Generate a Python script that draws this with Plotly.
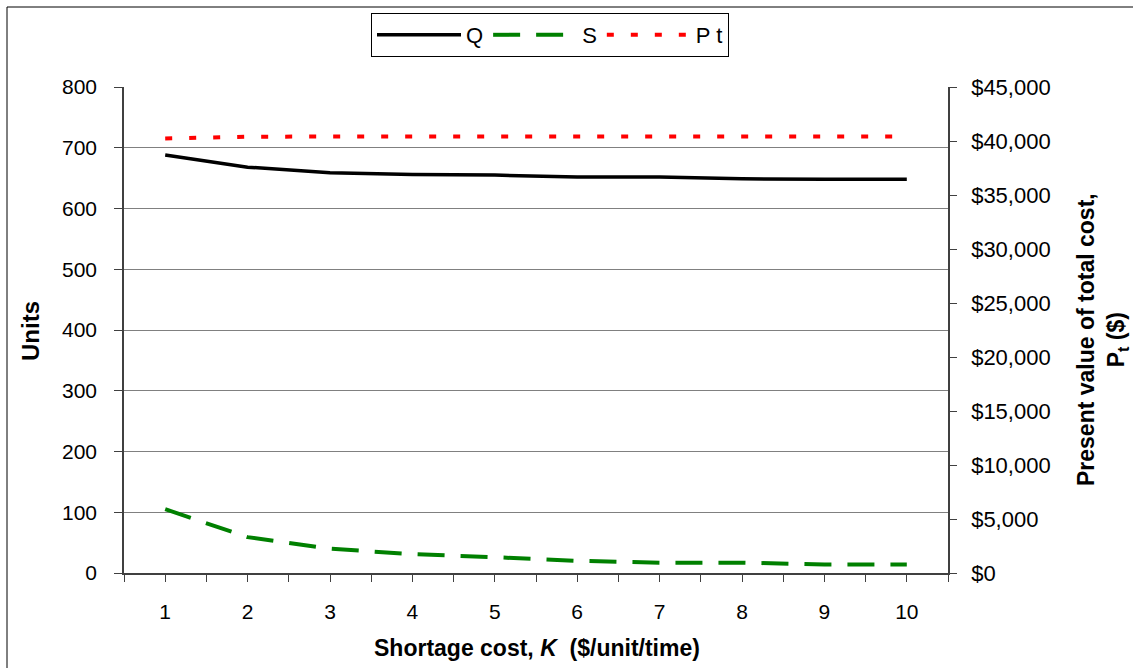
import plotly.graph_objects as go

K = [1, 2, 3, 4, 5, 6, 7, 8, 9, 10]
Q = [688, 668, 659, 656, 655, 652, 652, 649, 648, 648]
S = [105, 59, 40, 31, 26, 20, 17, 17, 14, 14]
Pt = [40230, 40400, 40410, 40420, 40420, 40420, 40420, 40420, 40420, 40420]

left_ticks = list(range(0, 801, 100))
right_ticks = list(range(0, 45001, 5000))
right_labels = ["$" + format(v, ",d") for v in right_ticks]
minor_x = [k + 0.5 for k in range(0, 11)]

FONT = "Liberation Sans, Arial, sans-serif"

fig = go.Figure()
fig.add_trace(go.Scatter(x=K, y=Q, name="Q", mode="lines",
                         line=dict(color="black", width=3.5)))
fig.add_trace(go.Scatter(x=K, y=S, name="S", mode="lines",
                         line=dict(color="#008000", width=4, dash="27px,16px")))
fig.add_trace(go.Scatter(x=K, y=Pt, name="P t", mode="lines", yaxis="y2",
                         line=dict(color="#ff0000", width=4, dash="7px,17px")))

L, R, T, B = 124, 185, 87, 95
W, H = 1133, 668
pw = W - L - R
ph = H - T - B

fig.update_layout(
    width=W, height=H,
    margin=dict(l=L, r=R, t=T, b=B),
    paper_bgcolor="white", plot_bgcolor="white",
    font=dict(family=FONT, size=21, color="black"),
    showlegend=True,
    legend=dict(orientation="h", x=(550 - L) / pw, xanchor="center",
                y=(H - B - 13) / ph, yanchor="top",
                bordercolor="black", borderwidth=1, bgcolor="white",
                font=dict(size=22), itemwidth=84, tracegroupgap=0),
    xaxis=dict(range=[0.5, 10.5], tickvals=K, ticktext=[str(k) for k in K],
               ticks="outside", ticklen=7, tickcolor="#404040",
               showline=True, linecolor="#404040", linewidth=2,
               showgrid=False, zeroline=False, ticklabelstandoff=12,
               minor=dict(tickvals=minor_x, ticks="outside", ticklen=7,
                          tickcolor="#404040", showgrid=False),
               tickfont=dict(size=21)),
    yaxis=dict(range=[0, 800], tickvals=left_ticks,
               ticks="outside", ticklen=8, tickcolor="#404040",
               showline=True, linecolor="#404040", linewidth=1.5,
               showgrid=True, gridcolor="#808080", gridwidth=1,
               zeroline=False, ticklabelstandoff=13, tickfont=dict(size=21)),
    yaxis2=dict(range=[0, 45000], tickvals=right_ticks, ticktext=right_labels,
                overlaying="y", side="right",
                ticks="outside", ticklen=7, tickcolor="#404040",
                showline=True, linecolor="#404040", linewidth=1.5,
                showgrid=False, zeroline=False, ticklabelstandoff=10,
                tickfont=dict(size=22)),
)

fig.add_annotation(text="<b>Shortage cost, <i>K</i>  ($/unit/time)</b>",
                   xref="paper", yref="paper", x=(537 - L) / pw, y=(H - B - 648) / ph,
                   showarrow=False, font=dict(size=23), xanchor="center", yanchor="middle")
fig.add_annotation(text="<b>Units</b>", xref="paper", yref="paper",
                   x=(30 - L) / pw, y=(H - B - 331) / ph, textangle=-90, showarrow=False,
                   font=dict(size=24), xanchor="center", yanchor="middle")
fig.add_annotation(text="<b>Present value of total cost,<br>P<sub>t</sub> ($)</b>",
                   xref="paper", yref="paper",
                   x=(1102 - L) / pw, y=(H - B - 340) / ph, textangle=-90,
                   showarrow=False, font=dict(size=23),
                   xanchor="center", yanchor="middle")

fig.add_shape(type="rect", xref="paper", yref="paper",
              x0=(7 - L) / pw, x1=(1140 - L) / pw,
              y0=(H - B - 680) / ph, y1=(H - B - 7) / ph,
              line=dict(color="black", width=1), layer="below")

fig.write_html("out.html")
